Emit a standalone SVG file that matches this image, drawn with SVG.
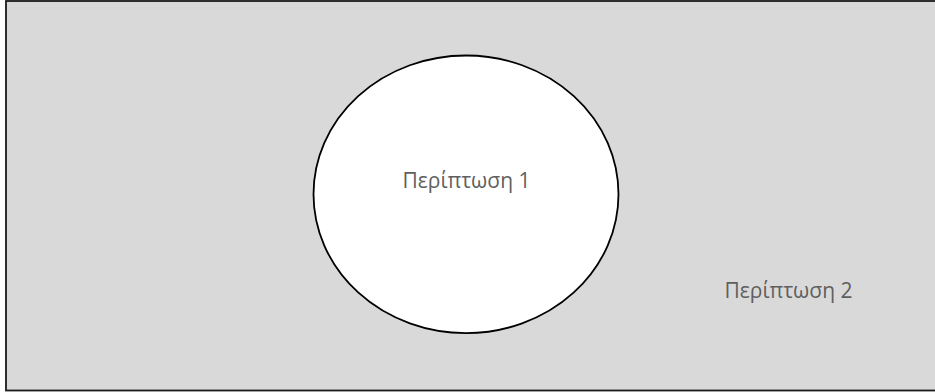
<svg xmlns="http://www.w3.org/2000/svg" width="935" height="392" viewBox="0 0 935 392">
<style>
.lbl{font-family:"Open Sans","DejaVu Sans",sans-serif;font-size:21px;fill:#5f5f5f;text-anchor:middle}
</style>
<rect width="935" height="392" fill="#ffffff"/>
<g id="case2">
<rect x="6" y="1" width="932" height="389.5" fill="#d9d9d9" stroke="#1a1a1a" stroke-width="1.8"/>
<text class="lbl" x="788.5" y="297.5">Περίπτωση 2</text>
</g>
<g id="case1">
<ellipse cx="466" cy="194.3" rx="152.5" ry="138.8" fill="#ffffff" stroke="#000000" stroke-width="1.8"/>
<text class="lbl" x="466.5" y="188.3">Περίπτωση 1</text>
</g>
<g id="connectors"/>
</svg>
